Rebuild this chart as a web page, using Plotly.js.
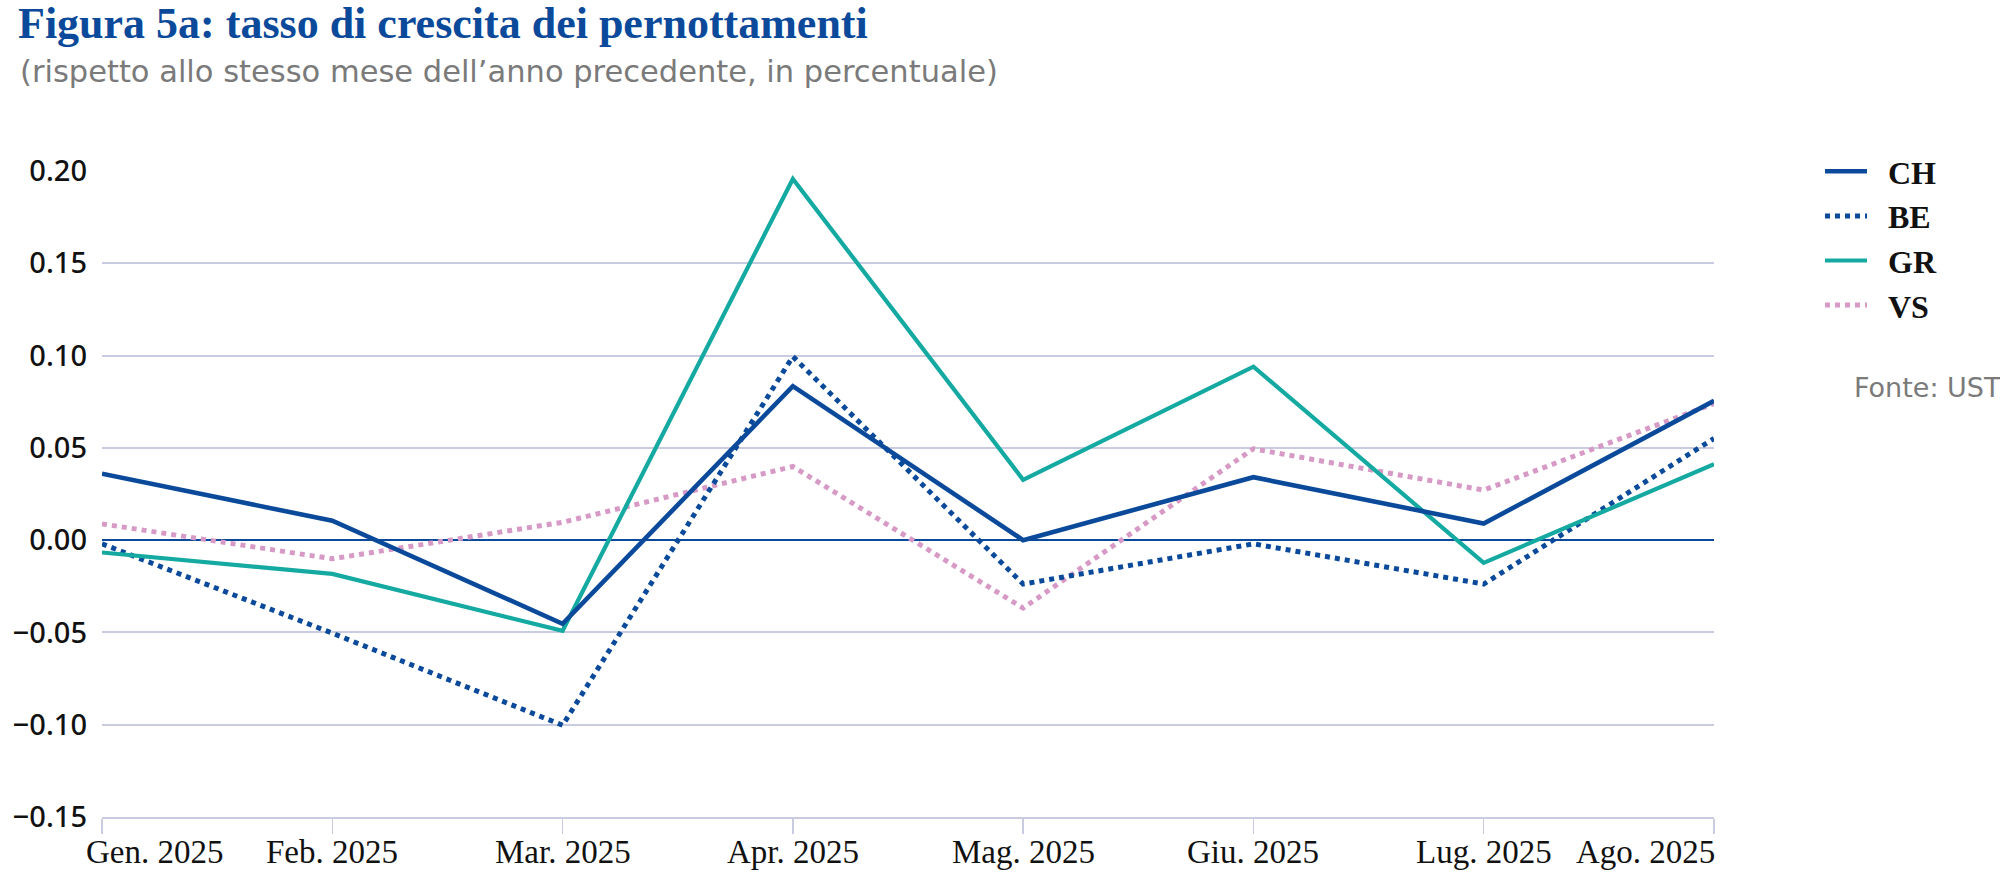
<!DOCTYPE html>
<html>
<head>
<meta charset="utf-8">
<script src="https://cdn.plot.ly/plotly-3.0.1.min.js"></script>
<style>
  html, body { margin: 0; padding: 0; background: #ffffff; }
  #chart { width: 2000px; height: 882px; }
</style>
</head>
<body>
<div id="chart"></div>
<script>
// Categories (months)
const months = ["Gen. 2025", "Feb. 2025", "Mar. 2025", "Apr. 2025", "Mag. 2025", "Giu. 2025", "Lug. 2025", "Ago. 2025"];

// Series values (growth rate vs same month of previous year)
const valuesCH = [0.036, 0.0105, -0.0453, 0.0834, 0.000, 0.0341, 0.009, 0.0755];
const valuesBE = [-0.002, -0.0504, -0.1003, 0.0995, -0.0238, -0.002, -0.0238, 0.0551];
const valuesGR = [-0.0067, -0.0183, -0.0491, 0.1957, 0.0327, 0.094, -0.0123, 0.0412];
const valuesVS = [0.0088, -0.0101, 0.0097, 0.0399, -0.0368, 0.0495, 0.0271, 0.074];

// Y tick values
const yTicks = [-0.15, -0.10, -0.05, 0.00, 0.05, 0.10, 0.15, 0.20];

const darkBlue = "#0b4a9a";
const teal = "#14a9a1";
const pink = "#d79ac6";
const gridCol = "#c9cbe0";

const serif = "'Liberation Serif', 'DejaVu Serif', serif";
const sans = "'DejaVu Sans', Verdana, sans-serif";
const gap = "\u00a0\u00a0";

const traces = [
  { x: months, y: valuesVS, name: gap + "VS", mode: "lines", line: { color: pink, width: 5, dash: "dot" }, legendrank: 4 },
  { x: months, y: valuesBE, name: gap + "BE", mode: "lines", line: { color: darkBlue, width: 5, dash: "dot" }, legendrank: 2 },
  { x: months, y: valuesGR, name: gap + "GR", mode: "lines", line: { color: teal, width: 4.2 }, legendrank: 3 },
  { x: months, y: valuesCH, name: gap + "CH", mode: "lines", line: { color: darkBlue, width: 4.6 }, legendrank: 1 }
];

// X category labels drawn as annotations on the category axis (first/last kept inside)
const xLabelAnnotations = months.map((m, i) => {
  const last = months.length - 1;
  return {
    text: m,
    xref: "x", yref: "paper",
    x: m,
    y: (817 - 852) / 646,
    yanchor: "middle",
    xanchor: i === 0 ? "left" : (i === last ? "right" : "center"),
    xshift: i === 0 ? -18 : (i === last ? 3 : 0),
    showarrow: false,
    font: { family: serif, size: 33, color: "#111111" }
  };
});

const layout = {
  width: 2000,
  height: 882,
  paper_bgcolor: "#ffffff",
  plot_bgcolor: "#ffffff",
  margin: { l: 102, r: 286, t: 171, b: 65 },
  showlegend: true,
  title: {
    text: "Figura 5a: tasso di crescita dei pernottamenti",
    x: 18 / 2000, xanchor: "left", xref: "container",
    y: 1 - 23 / 882, yanchor: "middle", yref: "container",
    font: { family: serif, size: 44, color: "#0b4a9a", weight: "bold" }
  },
  xaxis: {
    type: "category",
    range: [0, 7],
    showgrid: false,
    zeroline: false,
    showline: true,
    linecolor: gridCol,
    linewidth: 2,
    ticks: "outside",
    ticklen: 15,
    tickwidth: 1.5,
    tickcolor: gridCol,
    showticklabels: false,
    fixedrange: true
  },
  yaxis: {
    range: [-0.15, 0.20],
    tickvals: yTicks,
    tickformat: ".2f",
    showgrid: true,
    gridcolor: gridCol,
    gridwidth: 2,
    zeroline: true,
    zerolinecolor: darkBlue,
    zerolinewidth: 2,
    showline: false,
    ticks: "",
    ticklabelstandoff: 14,
    tickfont: { family: "'Noto Sans', 'Liberation Sans', sans-serif", size: 29, color: "#111111", weight: 500 },
    fixedrange: true
  },
  legend: {
    x: (1820 - 102) / 1612, xanchor: "left",
    y: (817 - 144) / 646, yanchor: "top",
    traceorder: "normal",
    font: { family: serif, size: 32, color: "#111111", weight: "bold" },
    itemwidth: 42,
    bgcolor: "rgba(0,0,0,0)"
  },
  annotations: [
    {
      text: "(rispetto allo stesso mese dell\u2019anno precedente, in percentuale)",
      xref: "paper", yref: "paper",
      x: (18 - 102) / 1612, xanchor: "left",
      y: (817 - 71) / 646, yanchor: "middle",
      showarrow: false,
      font: { family: sans, size: 30.5, color: "#7a7a7a" }
    },
    {
      text: "Fonte: UST",
      xref: "paper", yref: "paper",
      x: (1852 - 102) / 1612, xanchor: "left",
      y: (817 - 387) / 646, yanchor: "middle",
      showarrow: false,
      font: { family: sans, size: 27, color: "#7a7a7a" }
    }
  ].concat(xLabelAnnotations)
};

Plotly.newPlot("chart", traces, layout, { displayModeBar: false, staticPlot: true });
</script>
</body>
</html>
